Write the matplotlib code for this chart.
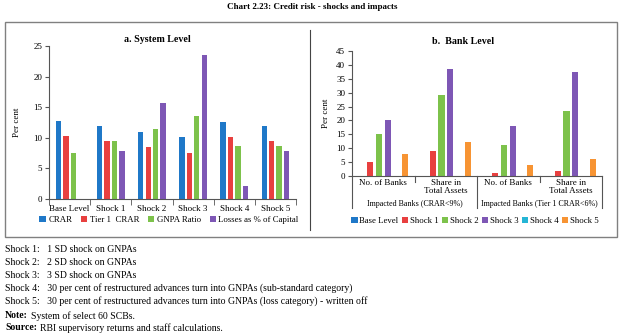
import matplotlib
matplotlib.use("Agg")
import matplotlib.pyplot as plt
import numpy as np
from matplotlib.lines import Line2D
from matplotlib.patches import Rectangle

plt.rcParams['font.family'] = ['Liberation Serif', 'DejaVu Serif']

# ---- data ----
sys_categories = ["Base Level", "Shock 1", "Shock 2", "Shock 3", "Shock 4", "Shock 5"]
sys_series = ["CRAR", "Tier 1  CRAR", "GNPA Ratio", "Losses as % of Capital"]
crar = [12.8, 11.9, 11.0, 10.1, 12.6, 11.9]
tier1 = [10.3, 9.4, 8.5, 7.5, 10.1, 9.4]
gnpa = [7.5, 9.5, 11.5, 13.5, 8.7, 8.7]
losses = [0.0, 7.8, 15.7, 23.5, 2.1, 7.9]

bank_categories = ["No. of Banks", "Share in\nTotal Assets", "No. of Banks", "Share in\nTotal Assets"]
bank_groups = ["Impacted Banks (CRAR<9%)", "Impacted Banks (Tier 1 CRAR<6%)"]
bank_series = ["Base Level", "Shock 1", "Shock 2", "Shock 3", "Shock 4", "Shock 5"]
base_level = [0, 0, 0, 0]
shock1 = [5, 9.1, 1, 1.9]
shock2 = [15, 29.1, 11, 23.4]
shock3 = [20, 38.4, 18, 37.5]
shock4 = [0, 0, 0, 0]
shock5 = [8, 12.4, 4, 6.2]

notes = [
    "Shock 1:   1 SD shock on GNPAs",
    "Shock 2:   2 SD shock on GNPAs",
    "Shock 3:   3 SD shock on GNPAs",
    "Shock 4:   30 per cent of restructured advances turn into GNPAs (sub-standard category)",
    "Shock 5:   30 per cent of restructured advances turn into GNPAs (loss category) - written off",
]
note_labels = ["Note:", "Source:"]
note_texts = ["System of select 60 SCBs.", "RBI supervisory returns and staff calculations."]

sys_colors = ["#1F78C8", "#E8403F", "#7DC24B", "#7E57B5"]
bank_colors = ["#1F78C8", "#E8403F", "#7DC24B", "#7E57B5", "#25B5D5", "#F79433"]

W, H = 624, 336
fig = plt.figure(figsize=(W / 100, H / 100), dpi=100)

def fx(px):
    return px / W

def fy(py):
    return 1 - py / H

gray = "#555555"
fs = 6.5
lfs = 6.3

# title
fig.text(0.5, fy(7), "Chart 2.23: Credit risk - shocks and impacts", ha="center", va="center",
         fontsize=6.5, fontweight="bold")

# frame
fig.patches.append(Rectangle((fx(5), fy(237)), fx(612), (237 - 22) / H, transform=fig.transFigure,
                             fill=False, edgecolor="#808080", lw=1.0))
fig.lines.append(Line2D([fx(310), fx(310)], [fy(30), fy(230)], transform=fig.transFigure,
                        color="#444444", lw=0.8))

# ---- left panel ----
axL = fig.add_axes([fx(49), fy(199), fx(247), (199 - 46) / H])
x = np.arange(len(sys_categories))
pitch = 0.18
bw = 0.13
for i, (vals, c, lab) in enumerate(zip([crar, tier1, gnpa, losses], sys_colors, sys_series)):
    axL.bar(x + (i - 1.5) * pitch, vals, width=bw, color=c, label=lab)
axL.set_xlim(-0.5, len(sys_categories) - 0.5)
axL.set_ylim(0, 25)
axL.set_yticks([0, 5, 10, 15, 20, 25])
axL.set_xticks(x)
axL.set_xticklabels(sys_categories)
axL.set_xticks(np.arange(-0.5, len(sys_categories)), minor=True)
axL.tick_params(axis="x", which="major", length=0, pad=4, labelsize=fs)
axL.tick_params(axis="x", which="minor", length=4, color=gray)
axL.tick_params(axis="y", length=3, color=gray, labelsize=fs, pad=2)
for s in ["top", "right"]:
    axL.spines[s].set_visible(False)
for s in ["left", "bottom"]:
    axL.spines[s].set_color(gray)
    axL.spines[s].set_linewidth(0.8)
axL.set_ylabel("Per cent", fontsize=fs, labelpad=9)
fig.text(fx(157), fy(40), "a. System Level", ha="center", va="center", fontsize=7.2, fontweight="bold")
fig.legend(*axL.get_legend_handles_labels(), loc="center", bbox_to_anchor=(fx(169), fy(220)),
           ncol=4, frameon=False, fontsize=lfs, handlelength=0.7, handleheight=0.7,
           handletextpad=0.3, columnspacing=1.0, borderaxespad=0)

# ---- right panel ----
axR = fig.add_axes([fx(352), fy(176), fx(250), (176 - 51) / H])
xb = np.arange(len(bank_categories))
pitchb = 0.14
bwb = 0.1
for i, (vals, c, lab) in enumerate(zip([base_level, shock1, shock2, shock3, shock4, shock5],
                                       bank_colors, bank_series)):
    axR.bar(xb + (i - 2.5) * pitchb, vals, width=bwb, color=c, label=lab)
axR.set_xlim(-0.5, len(bank_categories) - 0.5)
axR.set_ylim(0, 45)
axR.set_yticks(np.arange(0, 46, 5))
axR.set_xticks([])
axR.tick_params(axis="y", length=3, color=gray, labelsize=fs, pad=2)
for s in ["top", "right"]:
    axR.spines[s].set_visible(False)
for s in ["left", "bottom"]:
    axR.spines[s].set_color(gray)
    axR.spines[s].set_linewidth(0.8)
axR.set_ylabel("Per cent", fontsize=fs, labelpad=4)

tr = axR.get_xaxis_transform()
axh = 125.0
for k in range(len(bank_categories) + 1):
    xpos = k - 0.5
    y1 = -32 / axh if k % 2 == 0 else -6 / axh
    axR.add_line(Line2D([xpos, xpos], [0, y1], transform=tr, color=gray, lw=0.8, clip_on=False))
for k, lab in enumerate(bank_categories):
    axR.text(k, -3 / axh, lab, transform=tr, ha="center", va="top", fontsize=fs, linespacing=1.0)
for g, lab in enumerate(bank_groups):
    axR.text(2 * g + 0.5, -27.5 / axh, lab, transform=tr, ha="center", va="center", fontsize=5.8)

fig.text(fx(463), fy(41), "b.  Bank Level", ha="center", va="center", fontsize=7.2, fontweight="bold")
fig.legend(*axR.get_legend_handles_labels(), loc="center", bbox_to_anchor=(fx(475), fy(221)),
           ncol=6, frameon=False, fontsize=lfs, handlelength=0.7, handleheight=0.7,
           handletextpad=0.2, columnspacing=0.4, borderaxespad=0)

# ---- footnotes ----
nfs = 7.0
for j, t in enumerate(notes):
    fig.text(fx(5), fy(250 + j * 12.7), t, ha="left", va="center", fontsize=nfs)

renderer = fig.canvas.get_renderer()
for j, (lab, t) in enumerate(zip(note_labels, note_texts)):
    yy = fy(316 + j * 12)
    bt = fig.text(fx(5), yy, lab, ha="left", va="center", fontsize=nfs, fontweight="bold")
    bb = bt.get_window_extent(renderer=renderer)
    fig.text((bb.x1 + 3) / W, yy, t, ha="left", va="center", fontsize=nfs)

fig.savefig("out.png", dpi=100)
